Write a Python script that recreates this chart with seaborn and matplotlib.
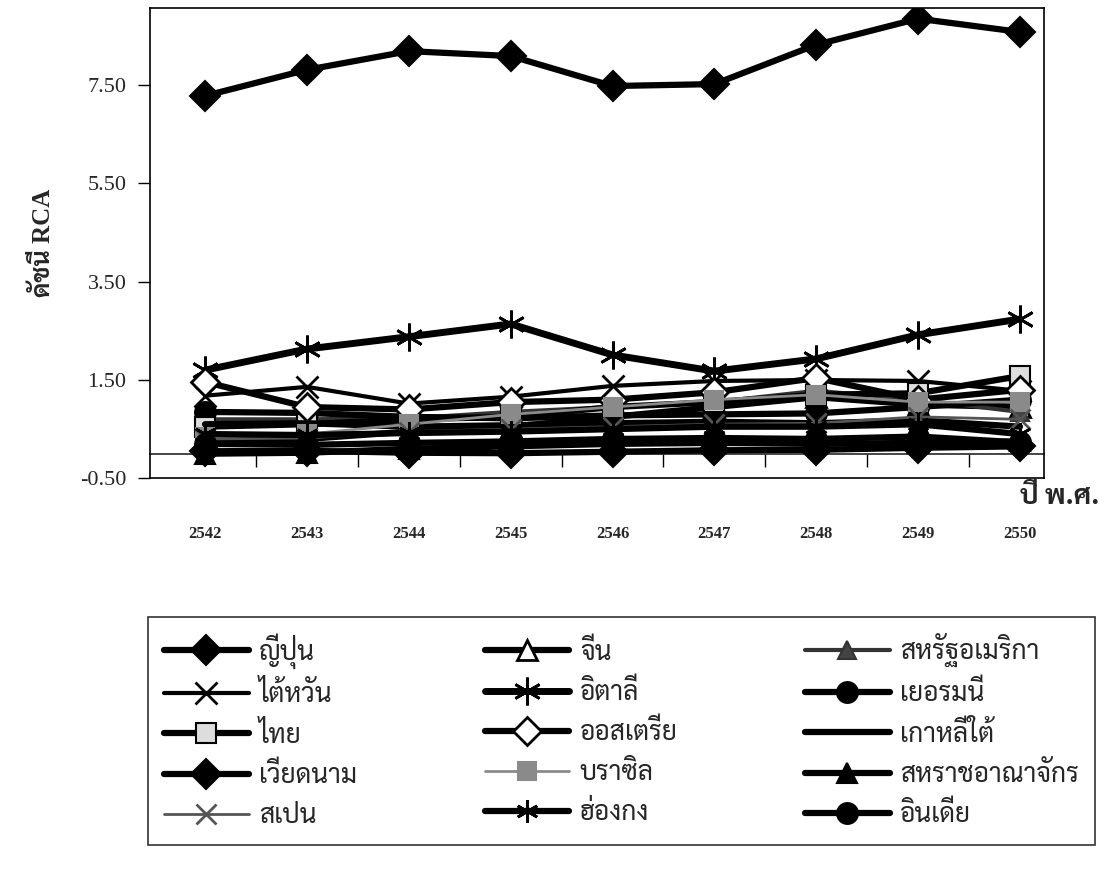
import matplotlib
matplotlib.use("Agg")
import matplotlib.pyplot as plt
import seaborn as sns
import pandas as pd

# RCA index by year (B.E.)
years = ["2542", "2543", "2544", "2545", "2546", "2547", "2548", "2549", "2550"]

japan = [7.28, 7.81, 8.19, 8.09, 7.48, 7.52, 8.32, 8.85, 8.58]
china = [0.25, 0.30, 0.45, 0.55, 0.75, 0.95, 1.15, 1.00, 0.95]
usa = [0.70, 0.70, 0.72, 0.85, 0.95, 1.05, 1.28, 1.10, 0.85]
taiwan = [1.18, 1.36, 1.02, 1.16, 1.38, 1.48, 1.50, 1.48, 1.28]
italy = [1.70, 2.13, 2.38, 2.64, 2.01, 1.68, 1.93, 2.42, 2.74]
germany = [0.85, 0.83, 0.75, 0.72, 0.78, 0.80, 0.82, 0.95, 1.10]
thailand = [0.55, 0.60, 0.70, 0.75, 0.95, 1.05, 1.20, 1.23, 1.58]
austria = [1.46, 0.95, 0.90, 1.05, 1.10, 1.25, 1.54, 1.10, 1.30]
korea = [0.60, 0.62, 0.55, 0.58, 0.62, 0.65, 0.62, 0.68, 0.55]
vietnam = [0.05, 0.06, 0.02, 0.01, 0.04, 0.07, 0.08, 0.12, 0.15]
brazil = [0.35, 0.40, 0.60, 0.80, 0.95, 1.10, 1.20, 1.05, 1.05]
uk = [0.00, 0.02, 0.10, 0.15, 0.20, 0.22, 0.20, 0.22, 0.25]
spain = [0.30, 0.32, 0.45, 0.50, 0.55, 0.60, 0.62, 0.75, 0.70]
hongkong = [0.40, 0.38, 0.42, 0.45, 0.50, 0.55, 0.55, 0.60, 0.40]
india = [0.20, 0.18, 0.22, 0.25, 0.30, 0.32, 0.30, 0.35, 0.23]

countries = ["ญี่ปุ่น", "จีน", "สหรัฐอเมริกา",
             "ไต้หวัน", "อิตาลี", "เยอรมนี",
             "ไทย", "ออสเตรีย", "เกาหลีใต้",
             "เวียดนาม", "บราซิล", "สหราชอาณาจักร",
             "สเปน", "ฮ่องกง", "อินเดีย"]
series = [japan, china, usa, taiwan, italy, germany, thailand, austria,
          korea, vietnam, brazil, uk, spain, hongkong, india]

ASTER = (6, 2, 0)
# marker, line colour, face colour, marker size, line width
styles = [
    ("D", "black", "black", 15, 4.5),
    ("^", "black", "white", 14, 4.5),
    ("^", "#333333", "#444444", 13, 3),
    ("x", "black", "none", 16, 3),
    (ASTER, "black", "none", 20, 5),
    ("o", "black", "black", 15, 4.5),
    ("s", "black", "#dddddd", 14, 4.5),
    ("D", "black", "white", 14, 4.5),
    ("", "black", "none", 0, 4.5),
    ("D", "black", "black", 15, 4.5),
    ("s", "#8a8a8a", "#8a8a8a", 13, 2),
    ("^", "black", "black", 15, 4.5),
    ("x", "#555555", "none", 15, 2),
    (ASTER, "black", "none", 16, 4.5),
    ("o", "black", "black", 15, 4.5),
]

sns.set_theme(style="white")
thai = ["Sarabun", "DejaVu Sans"]
num_font = ["Liberation Serif", "DejaVu Serif"]

fig = plt.figure(figsize=(11.07, 8.76), dpi=100)
ax = fig.add_axes([0.1355, 0.454, 0.808, 0.537])

x = list(range(len(years)))
for name, vals, (mk, col, fc, ms, lw) in zip(countries, series, styles):
    df = pd.DataFrame({"x": x, "rca": vals})
    mew = 2 if mk in ("x", ASTER) or fc == "white" else 1.5
    sns.lineplot(data=df, x="x", y="rca", ax=ax, color=col, lw=lw,
                 marker=mk if mk else None, markersize=ms,
                 markerfacecolor=fc, markeredgecolor=col,
                 markeredgewidth=mew, label=name, legend=False)

ax.set_xlim(-0.54, 8.24)
ax.set_ylim(-0.5, 9.07)

for side in ["top", "right", "left", "bottom"]:
    ax.spines[side].set_visible(True)
    ax.spines[side].set_color("black")
    ax.spines[side].set_linewidth(1.2)

# y axis
yt = [-0.5, 1.5, 3.5, 5.5, 7.5]
ax.set_yticks(yt)
ax.set_yticklabels([f"{v:.2f}" for v in yt], family=num_font, fontsize=16)
ax.tick_params(axis="y", direction="out", length=9, width=1, color="black", pad=8, left=True)
ax.set_ylabel("ดัชนี RCA", family=["Liberation Serif", "Sarabun", "DejaVu Sans"],
              fontsize=18, fontweight="bold", labelpad=18)

# category labels at the bottom, no tick marks
ax.set_xticks(x)
ax.set_xticklabels(years, family=num_font, fontsize=12, fontweight="bold")
ax.tick_params(axis="x", length=0, pad=34)
ax.set_xlabel("")

# category axis crossing at zero
sec = ax.secondary_xaxis(0, transform=ax.transData)
sec.set_xticks([i + 0.5 for i in range(len(years) - 1)])
sec.set_xticklabels([])
sec.tick_params(direction="out", length=9, width=1, color="black")
sec.spines["bottom"].set_linewidth(1.2)

fig.text(0.993, (876 - 497) / 876, "ปี พ.ศ.", family=thai, fontsize=20,
         fontweight="bold", ha="right", va="center")

# legend filled row by row like the original
h, l = ax.get_legend_handles_labels()
order = [r * 3 + c for c in range(3) for r in range(5)]
leg = fig.legend([h[i] for i in order], [l[i] for i in order], ncol=3,
                 loc="lower left", bbox_to_anchor=(0.134, 0.035, 0.855, 0.26),
                 mode="expand", borderaxespad=0, frameon=True, fancybox=False,
                 handlelength=3.2, borderpad=0.6, labelspacing=0.5, handletextpad=0.4,
                 prop={"family": thai, "size": 19})
leg.get_frame().set_edgecolor("black")
leg.get_frame().set_linewidth(1.2)

fig.savefig("out.png", dpi=100)
